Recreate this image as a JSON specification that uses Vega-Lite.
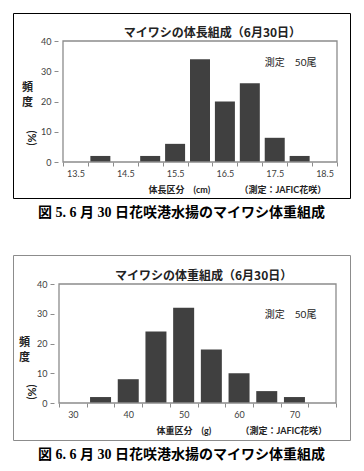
{
  "$schema": "https://vega.github.io/schema/vega-lite/v6.json",
  "background": "white",
  "padding": {"left": 12, "top": 12, "right": 0, "bottom": 0},
  "spacing": 33,
  "config": {
    "font": "Lato, Noto Sans CJK JP",
    "axis": {"grid": false},
    "title": {"font": "Liberation Serif, Noto Sans CJK JP", "fontSize": 14, "fontWeight": "bold", "color": "#000", "orient": "bottom", "offset": 8}
  },
  "vconcat": [
    {
      "width": 337, "height": 185,
      "view": {"stroke": "#000", "strokeWidth": 1},
      "title": {"text": "図 5. 6 月 30 日花咲港水揚のマイワシ体重組成"},
      "resolve": {"axis": {"x": "independent"}},
      "layer": [
        {
          "data": {"values": [
            {"size": 13.5, "pct": 0}, {"size": 14.0, "pct": 2}, {"size": 14.5, "pct": 0},
            {"size": 15.0, "pct": 2}, {"size": 15.5, "pct": 6}, {"size": 16.0, "pct": 34},
            {"size": 16.5, "pct": 20}, {"size": 17.0, "pct": 26}, {"size": 17.5, "pct": 8},
            {"size": 18.0, "pct": 2}, {"size": 18.5, "pct": 0}
          ]},
          "mark": {"type": "bar", "size": 20, "color": "#404040"},
          "encoding": {
            "x": {"field": "size", "type": "quantitative",
              "scale": {"domain": [13.25, 18.75], "range": [45, 329], "nice": false, "zero": false},
              "axis": {"orient": "bottom", "offset": -36, "values": [13.5, 14.5, 15.5, 16.5, 17.5, 18.5], "format": ".1f",
                "domain": false, "ticks": false, "tickSize": 0, "labelPadding": 7, "labelFontSize": 9, "labelColor": "#404040",
                "title": "体長区分　(cm)　　　 （測定：JAFIC花咲）", "titleFontSize": 9, "titleFontWeight": "bold", "titleColor": "#222",
                "titleAlign": "left", "titleBaseline": "middle", "titleX": 135, "titleY": 27}},
            "y": {"field": "pct", "type": "quantitative",
              "scale": {"domain": [0, 40], "range": [149, 28], "nice": false},
              "axis": {"offset": -45, "values": [0, 10, 20, 30, 40], "domain": false, "ticks": true, "tickSize": 4, "tickColor": "#8c8c8c",
                "labelPadding": 3, "labelFontSize": 9, "labelColor": "#404040",
                "title": ["頻", "度"], "titleAngle": 0, "titleFontSize": 11, "titleFontWeight": "bold", "titleColor": "#222",
                "titleAlign": "center", "titleBaseline": "top", "titleLineHeight": 15, "titleX": -31, "titleY": 68}}
          }
        },
        {
          "data": {"values": [{}]},
          "mark": {"type": "rect", "fill": null, "stroke": "#8c8c8c", "strokeWidth": 1.3},
          "encoding": {
            "x": {"datum": 13.25, "type": "quantitative",
              "axis": {"orient": "bottom", "offset": -36, "values": [13.25, 13.75, 14.25, 14.75, 15.25, 15.75, 16.25, 16.75, 17.25, 17.75, 18.25, 18.75],
                "domain": false, "labels": false, "ticks": true, "tickSize": 4, "tickColor": "#8c8c8c", "title": null}},
            "x2": {"datum": 18.75},
            "y": {"datum": 0, "type": "quantitative"},
            "y2": {"datum": 40}
          }
        },
        {
          "data": {"values": [{"label": "マイワシの体長組成（6月30日）"}]},
          "mark": {"type": "text", "font": "Noto Sans CJK JP", "fontSize": 12, "fontWeight": "bold", "color": "#222", "baseline": "middle"},
          "encoding": {
            "x": {"datum": 16.25, "type": "quantitative", "axis": null},
            "y": {"datum": 42.6, "type": "quantitative"},
            "text": {"field": "label"}
          }
        },
        {
          "data": {"values": [{"label": "測定　50尾"}]},
          "mark": {"type": "text", "fontSize": 10, "color": "#222", "baseline": "middle"},
          "encoding": {
            "x": {"datum": 17.82, "type": "quantitative", "axis": null},
            "y": {"datum": 32.7, "type": "quantitative"},
            "text": {"field": "label"}
          }
        },
        {
          "data": {"values": [{"label": "(%)"}]},
          "mark": {"type": "text", "fontSize": 11, "fontWeight": "bold", "color": "#222", "baseline": "middle", "angle": 90},
          "encoding": {
            "x": {"datum": 12.6, "type": "quantitative", "axis": null},
            "y": {"datum": 7.9, "type": "quantitative"},
            "text": {"field": "label"}
          }
        }
      ]
    },
    {
      "width": 337, "height": 185,
      "view": {"stroke": "#8c8c8c", "strokeWidth": 1},
      "title": {"text": "図 6. 6 月 30 日花咲港水揚のマイワシ体重組成"},
      "resolve": {"axis": {"x": "independent"}},
      "layer": [
        {
          "data": {"values": [
            {"weight": 30, "pct": 0}, {"weight": 35, "pct": 2}, {"weight": 40, "pct": 8},
            {"weight": 45, "pct": 24}, {"weight": 50, "pct": 32}, {"weight": 55, "pct": 18},
            {"weight": 60, "pct": 10}, {"weight": 65, "pct": 4}, {"weight": 70, "pct": 2},
            {"weight": 75, "pct": 0}
          ]},
          "mark": {"type": "bar", "size": 21, "color": "#404040"},
          "encoding": {
            "x": {"field": "weight", "type": "quantitative",
              "scale": {"domain": [27.5, 77.5], "range": [41, 328], "nice": false, "zero": false},
              "axis": {"orient": "bottom", "offset": -37, "values": [30, 40, 50, 60, 70],
                "domain": false, "ticks": false, "tickSize": 0, "labelPadding": 7, "labelFontSize": 9, "labelColor": "#404040",
                "title": "体重区分　(g)　　　 （測定：JAFIC花咲）", "titleFontSize": 9, "titleFontWeight": "bold", "titleColor": "#222",
                "titleAlign": "left", "titleBaseline": "middle", "titleX": 143, "titleY": 27}},
            "y": {"field": "pct", "type": "quantitative",
              "scale": {"domain": [0, 40], "range": [148, 29], "nice": false},
              "axis": {"offset": -41, "values": [0, 10, 20, 30, 40], "domain": false, "ticks": true, "tickSize": 4, "tickColor": "#8c8c8c",
                "labelPadding": 3, "labelFontSize": 9, "labelColor": "#404040",
                "title": ["頻", "度"], "titleAngle": 0, "titleFontSize": 11, "titleFontWeight": "bold", "titleColor": "#222",
                "titleAlign": "center", "titleBaseline": "top", "titleLineHeight": 15, "titleX": -30, "titleY": 81}}
          }
        },
        {
          "data": {"values": [{}]},
          "mark": {"type": "rect", "fill": null, "stroke": "#8c8c8c", "strokeWidth": 1.3},
          "encoding": {
            "x": {"datum": 27.5, "type": "quantitative",
              "axis": {"orient": "bottom", "offset": -37, "values": [27.5, 32.5, 37.5, 42.5, 47.5, 52.5, 57.5, 62.5, 67.5, 72.5, 77.5],
                "domain": false, "labels": false, "ticks": true, "tickSize": 4, "tickColor": "#8c8c8c", "title": null}},
            "x2": {"datum": 77.5},
            "y": {"datum": 0, "type": "quantitative"},
            "y2": {"datum": 40}
          }
        },
        {
          "data": {"values": [{"label": "マイワシの体重組成（6月30日）"}]},
          "mark": {"type": "text", "font": "Noto Sans CJK JP", "fontSize": 12, "fontWeight": "bold", "color": "#222", "baseline": "middle"},
          "encoding": {
            "x": {"datum": 53.6, "type": "quantitative", "axis": null},
            "y": {"datum": 42.7, "type": "quantitative"},
            "text": {"field": "label"}
          }
        },
        {
          "data": {"values": [{"label": "測定　50尾"}]},
          "mark": {"type": "text", "fontSize": 10, "color": "#222", "baseline": "middle"},
          "encoding": {
            "x": {"datum": 69.3, "type": "quantitative", "axis": null},
            "y": {"datum": 29.6, "type": "quantitative"},
            "text": {"field": "label"}
          }
        },
        {
          "data": {"values": [{"label": "(%)"}]},
          "mark": {"type": "text", "fontSize": 11, "fontWeight": "bold", "color": "#222", "baseline": "middle", "angle": 90},
          "encoding": {
            "x": {"datum": 22.4, "type": "quantitative", "axis": null},
            "y": {"datum": 3.7, "type": "quantitative"},
            "text": {"field": "label"}
          }
        }
      ]
    }
  ]
}
